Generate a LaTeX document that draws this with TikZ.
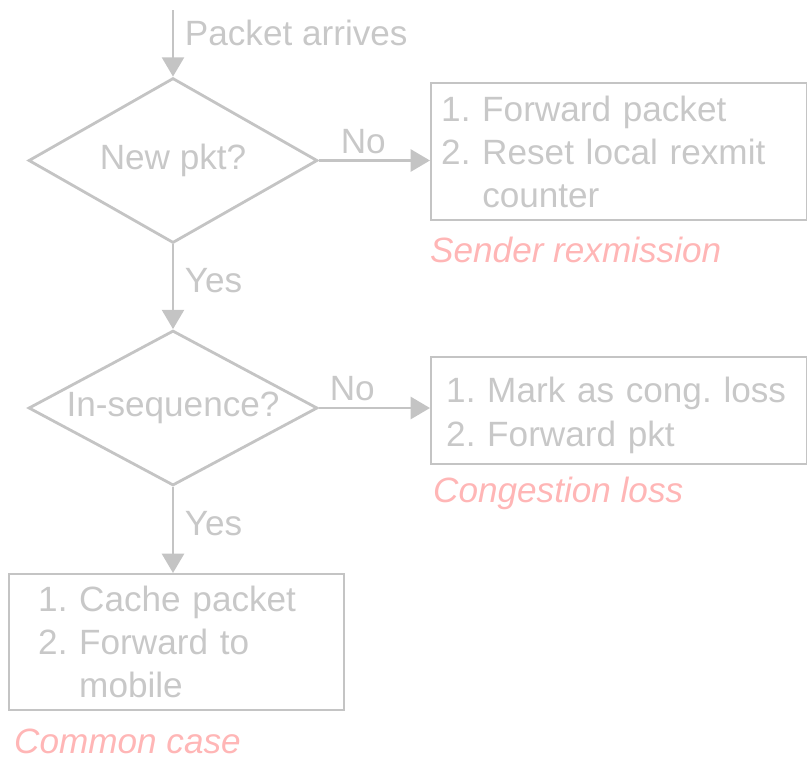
\documentclass[tikz,border=0pt]{standalone}
\usepackage{fontspec}
\setmainfont{Liberation Sans}
\usetikzlibrary{shapes.geometric,arrows.meta}

\definecolor{flowline}{RGB}{196,196,196}
\definecolor{flowtext}{RGB}{200,200,200}
\definecolor{casered}{RGB}{255,182,182}
\newcommand{\flowfont}{\fontsize{20}{24.4}\selectfont\frenchspacing}

\tikzset{
  flow/.style={draw=flowline, line width=1.6pt, -{Triangle[width=12.5pt,length=11pt]}},
  decision/.style={diamond, draw=flowline, line width=1.6pt, inner sep=0pt, text=flowtext},
  action/.style={rectangle, draw=flowline, line width=1.4pt, anchor=north west, align=left, text=flowtext},
  casename/.style={anchor=west, text=casered, font=\flowfont\itshape},
  edgelabel/.style={text=flowtext, inner xsep=6pt, inner ysep=3pt}
}

\begin{document}
\begin{tikzpicture}[x=0.02cm, y=-0.02cm, font=\flowfont]
\useasboundingbox (0,0) rectangle (807,758);

\coordinate (in) at (173,10);
\node[decision, aspect=1.75, minimum width=5.78cm, minimum height=3.3cm] (dNew) at (173,160.5) {New pkt?};
\node[decision, aspect=1.86, minimum width=5.78cm, minimum height=3.1cm] (dSeq) at (173,408) {In-sequence?};

\node[action, minimum width=7.52cm, minimum height=2.74cm, inner xsep=0.2cm, text width=7.12cm] (bSender) at (430,82) {
1. Forward packet\\
2. Reset local rexmit\\
\phantom{2. }counter};
% taller first line keeps the two lines a bit lower in the box
\node[action, minimum width=7.52cm, minimum height=2.14cm, inner xsep=0.3cm, text width=6.92cm] (bCong) at (430,356) {
\rule{0pt}{20pt}1. Mark as cong. loss\\[1pt]
2. Forward pkt};
\node[action, minimum width=6.7cm, minimum height=2.72cm, inner xsep=0.58cm, text width=5.54cm] (bCommon) at (8,573) {
1. Cache packet\\
2. Forward to\\
\phantom{2. }mobile};

\node[casename] (lSender) at (424,250) {Sender rexmission};
\node[casename] (lCong) at (427,493) {Congestion loss};
\node[casename] (lCommon) at (8,741) {Common case};

\draw[flow] (in) -- node[edgelabel, right, pos=0.35] {Packet arrives} (dNew.north);
\draw[flow] (dNew.east) -- node[edgelabel, above, pos=0.4] {No} (bSender.west |- dNew.east);
\draw[flow] (dNew.south) -- node[edgelabel, right, pos=0.43] {Yes} (dSeq.north);
\draw[flow] (dSeq.east) -- node[edgelabel, above, pos=0.3] {No} (bCong.west |- dSeq.east);
\draw[flow] (dSeq.south) -- node[edgelabel, right, pos=0.43] {Yes} (dSeq.south |- bCommon.north);
\end{tikzpicture}
\end{document}
